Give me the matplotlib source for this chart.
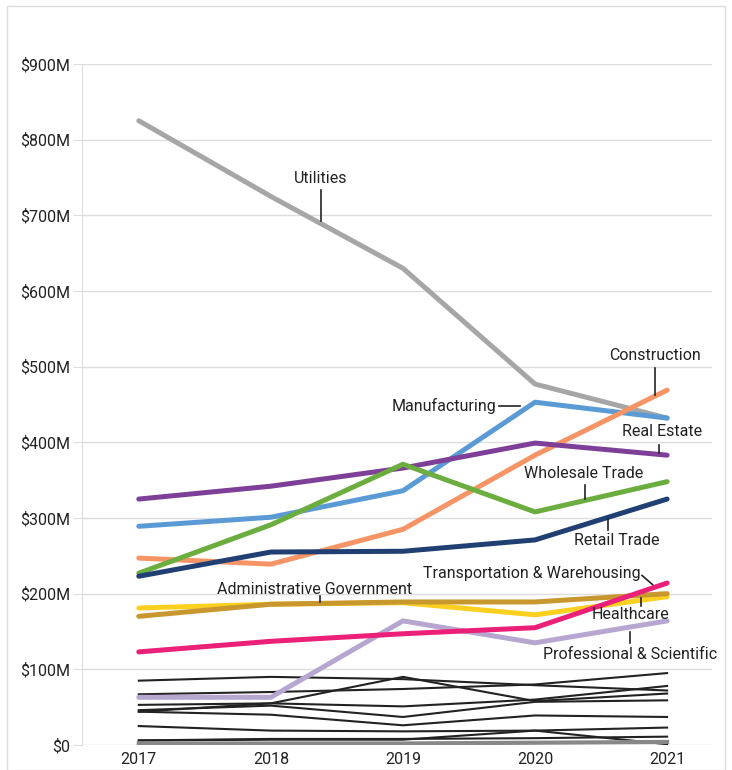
import matplotlib.pyplot as plt
from matplotlib.patches import Rectangle

plt.rcParams['font.family'] = ['Roboto', 'DejaVu Sans']

years = [2017, 2018, 2019, 2020, 2021]

# highlighted industries, values in $M
utilities = [825, 725, 630, 477, 432]
construction = [247, 239, 285, 383, 469]
manufacturing = [289, 301, 336, 453, 432]
real_estate = [325, 342, 366, 399, 383]
wholesale = [227, 291, 371, 308, 348]
retail = [223, 255, 256, 271, 325]
transport = [123, 137, 147, 155, 214]
admin_gov = [170, 186, 189, 189, 200]
healthcare = [181, 186, 188, 172, 196]
professional = [63, 63, 164, 135, 164]

# other industries (unlabelled), values in $M
others = [
    [85, 90, 87, 79, 72],
    [53, 55, 90, 58, 68],
    [67, 70, 74, 80, 95],
    [44, 55, 51, 60, 78],
    [46, 52, 37, 57, 59],
    [44, 40, 26, 39, 37],
    [25, 19, 18, 19, 23],
    [6, 7, 7, 19, 1],
    [6, 8, 8, 9, 11],
]
others_gray = [2, 2, 2, 3, 4]

series = [
    ("Utilities", utilities, "#a6a6a6"),
    ("Manufacturing", manufacturing, "#5b9bd5"),
    ("Construction", construction, "#f79465"),
    ("Real Estate", real_estate, "#7d3f98"),
    ("Wholesale Trade", wholesale, "#6cad3f"),
    ("Retail Trade", retail, "#203f73"),
    ("Professional & Scientific", professional, "#b6a6d0"),
    ("Healthcare", healthcare, "#fdd020"),
    ("Administrative Government", admin_gov, "#c8982e"),
    ("Transportation & Warehousing", transport, "#ec1f79"),
]

# label text position, alignment, leader start, leader end (data coords)
labels = {
    "Utilities": ((2018.38, 749), "center", (2018.38, 733), (2018.38, 693)),
    "Construction": ((2020.91, 515), "center", (2020.91, 498), (2020.91, 463)),
    "Manufacturing": ((2019.71, 448), "right", (2019.73, 448), (2019.89, 448)),
    "Real Estate": ((2020.96, 414), "center", (2020.94, 396), (2020.94, 386)),
    "Wholesale Trade": ((2020.37, 359), "center", (2020.38, 344), (2020.38, 325)),
    "Retail Trade": ((2020.62, 270), "center", (2020.55, 284), (2020.55, 299)),
    "Transportation & Warehousing": ((2020.80, 227), "right", (2020.81, 224), (2020.89, 212)),
    "Administrative Government": ((2018.33, 206), "center", (2018.37, 197), (2018.37, 189)),
    "Healthcare": ((2020.72, 173), "center", (2020.80, 184), (2020.80, 194)),
    "Professional & Scientific": ((2020.72, 119), "center", (2020.72, 135), (2020.72, 149)),
}

fig = plt.figure(figsize=(7.32, 7.7), dpi=100)
ax = fig.add_axes([0.112, 0.0325, 0.8607, 0.8844])

for vals in others:
    ax.plot(years, vals, color="#222222", lw=1.5, zorder=2)
ax.plot(years, others_gray, color="#888888", lw=3, zorder=2)

for name, vals, col in series:
    ax.plot(years, vals, color=col, lw=3.6, solid_capstyle="round", zorder=3)

for name, (pos, ha, p0, p1) in labels.items():
    ax.text(pos[0], pos[1], name, ha=ha, va="center", fontsize=11.5,
            color="#222222", zorder=5)
    ax.plot([p0[0], p1[0]], [p0[1], p1[1]], color="#222222", lw=1.2, zorder=4)

ax.set_xlim(2016.57, 2021.34)
ax.set_ylim(0, 900)
ax.set_xticks(years)
ax.set_xticklabels([str(y) for y in years])
ax.set_yticks(range(0, 901, 100))
ax.set_yticklabels(["$0"] + [f"${v}M" for v in range(100, 901, 100)])
ax.grid(axis="y", color="#dddddd", lw=1)
ax.set_axisbelow(True)
for s in ["top", "right", "bottom"]:
    ax.spines[s].set_visible(False)
ax.spines["left"].set_color("#dddddd")
ax.tick_params(axis="y", length=6.5, color="#dddddd", labelsize=11.5, labelcolor="#222222", pad=2)
ax.tick_params(axis="x", length=0, labelsize=11.5, labelcolor="#222222", pad=5)

fig.patches.append(Rectangle((7 / 732, 0.0), 718 / 732, 1 - 6 / 770, transform=fig.transFigure,
                             fill=False, edgecolor="#dddddd", lw=1))

fig.savefig("out.png", dpi=100)
